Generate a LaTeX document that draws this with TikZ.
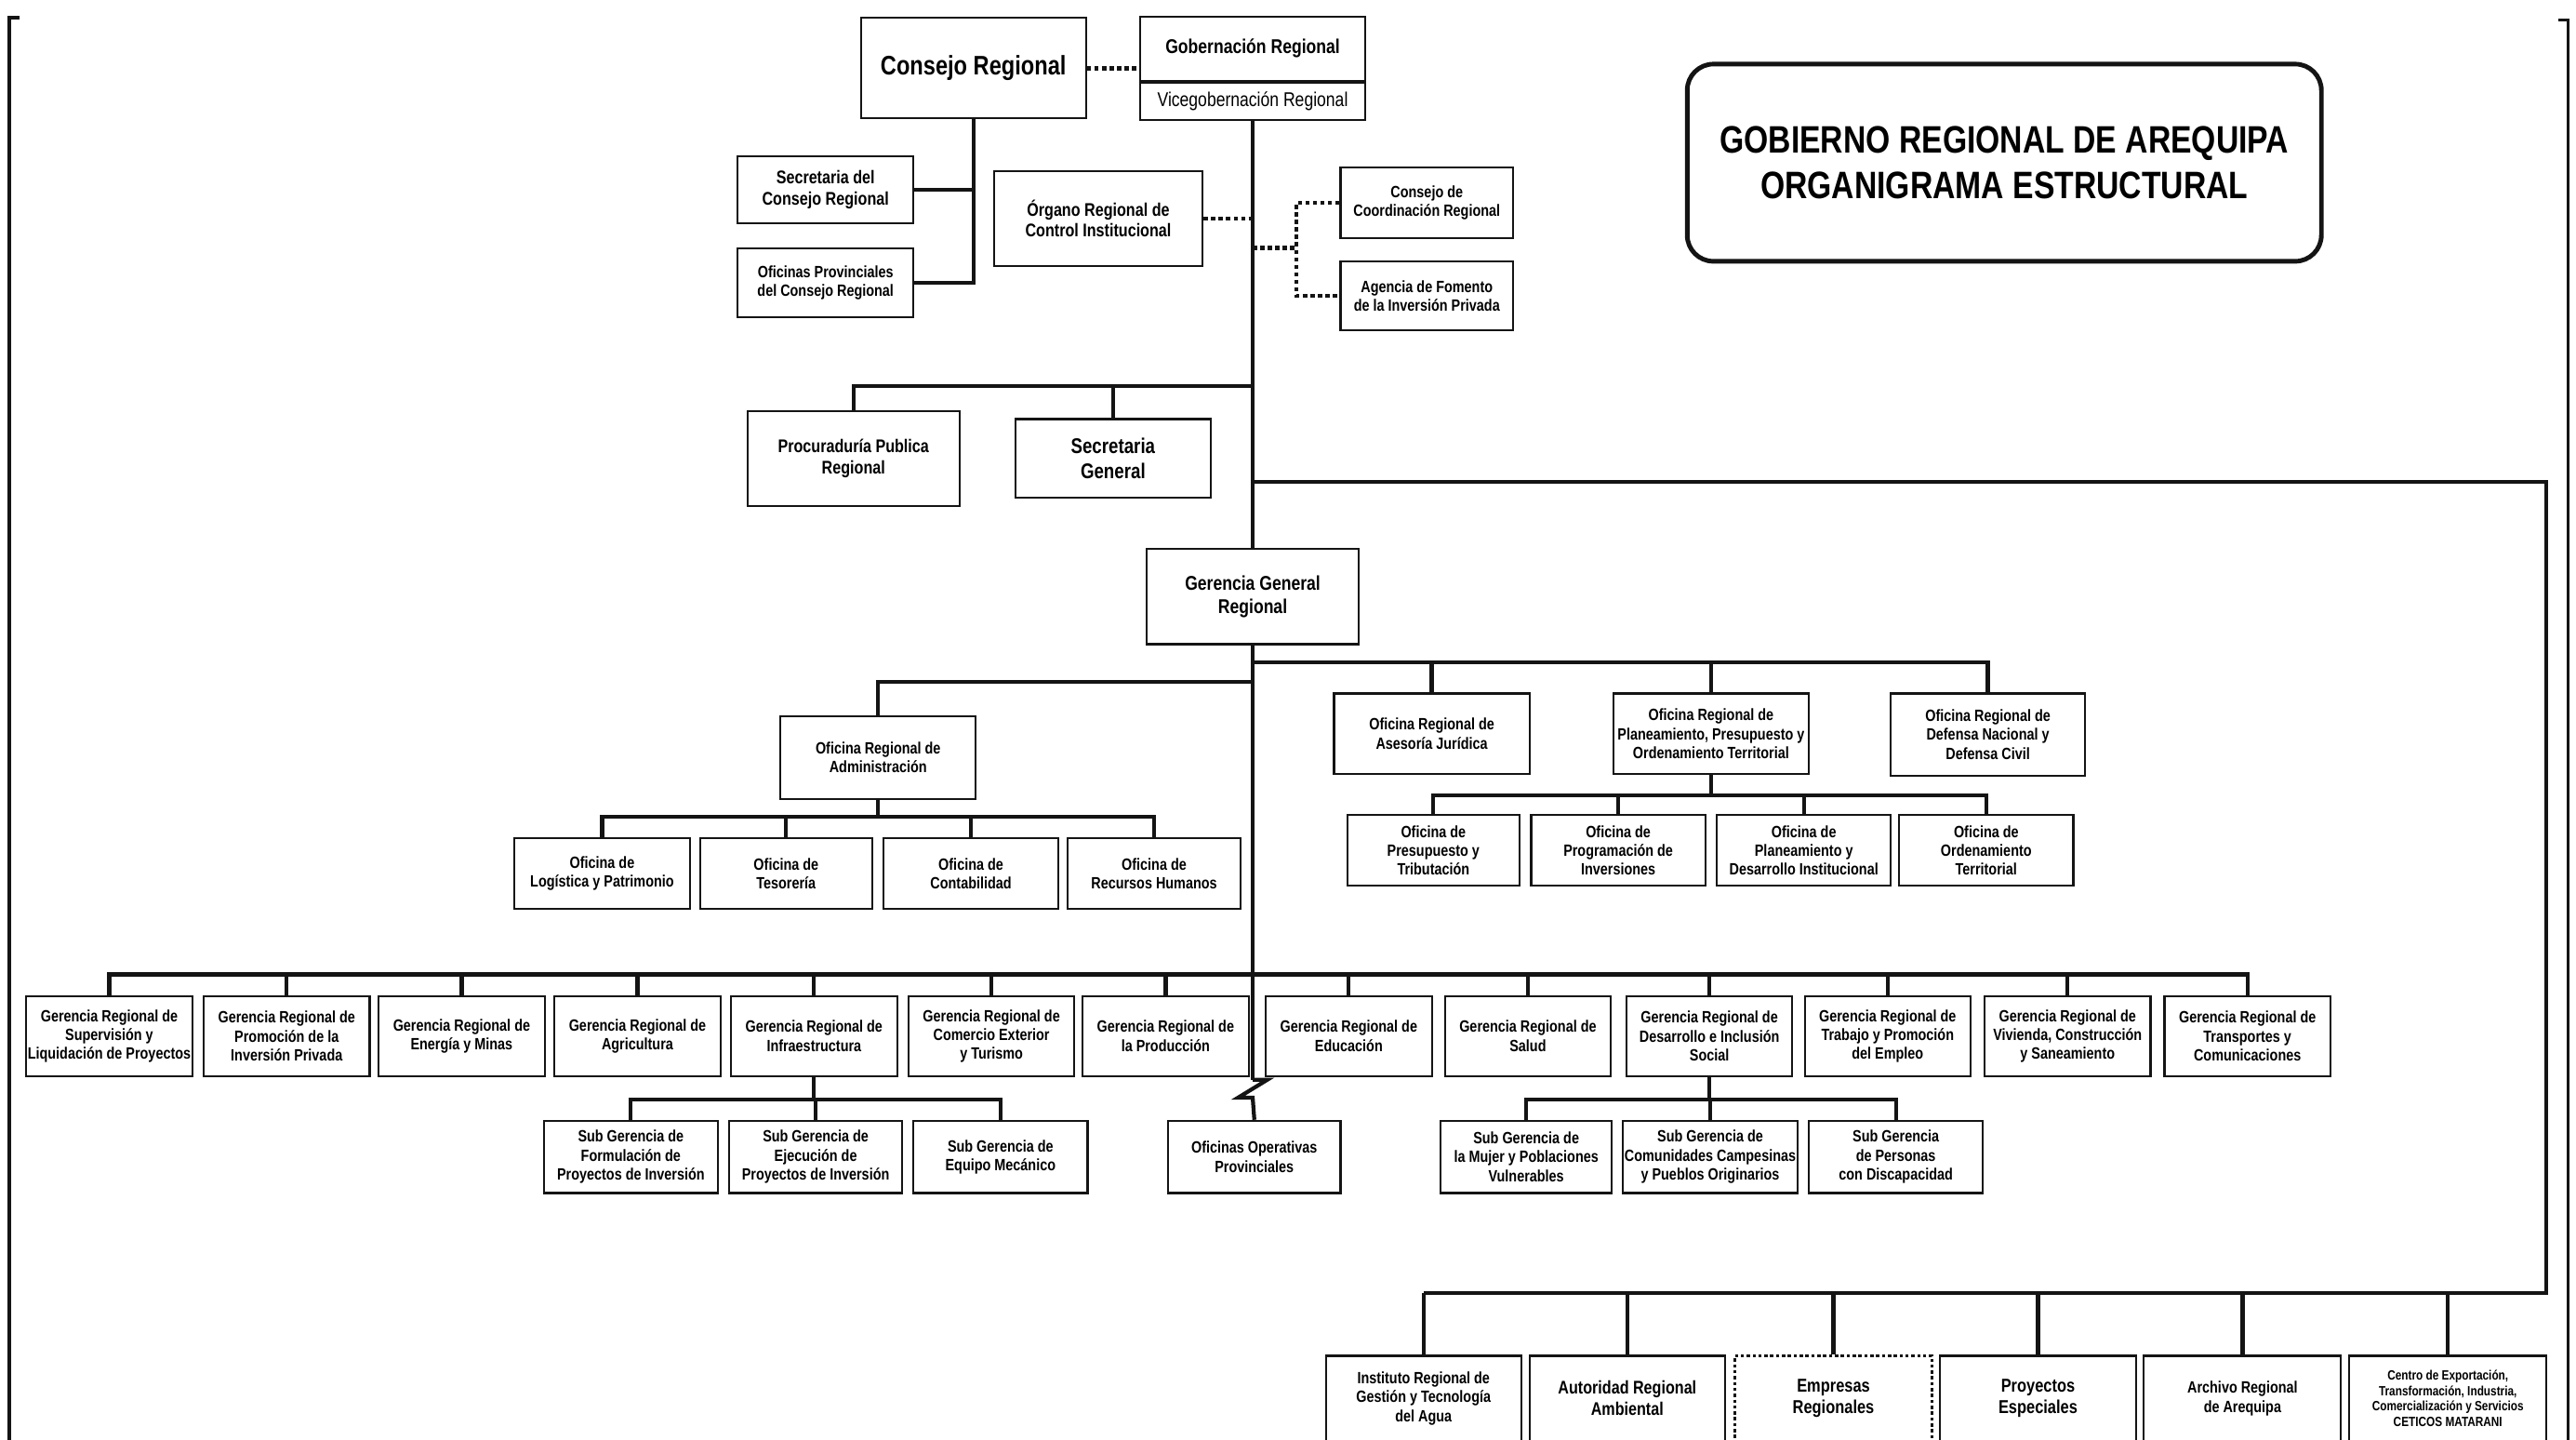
\documentclass[tikz,border=0pt]{standalone}
\usepackage{fontspec}
\setmainfont{Liberation Sans}[FakeStretch=0.82]
\usetikzlibrary{positioning}
\definecolor{ink}{HTML}{141414}
\tikzset{
  wh/.style 2 args={minimum width=#1*0.017666cm,minimum height=#2*0.017666cm},
  box/.style={draw=ink,fill=white,line width=0.6pt,align=center,inner sep=0.5pt,
              font=\fontsize{5}{5.8}\selectfont\bfseries},
  smallbox/.style={box,font=\fontsize{5.6}{6.5}\selectfont\bfseries},
  midbox/.style={box,font=\fontsize{6.1}{7.1}\selectfont\bfseries},
  orgbox/.style={box,font=\fontsize{5.7}{6.7}\selectfont\bfseries},
  bigbox/.style={box,font=\fontsize{8.2}{9.6}\selectfont\bfseries},
  tinybox/.style={box,font=\fontsize{4.1}{4.7}\selectfont\bfseries},
  dotbox/.style={orgbox,dash pattern=on 1pt off 0.8pt},
  titlebox/.style={draw=ink,line width=1.4pt,rounded corners=8pt,align=center,
                   font=\fontsize{11.7}{14}\selectfont\bfseries},
  conn/.style={draw=ink,line width=1.2pt},
  dots/.style={draw=ink,line width=1.3pt,dash pattern=on 1.3pt off 1pt},
  cropline/.style={draw=ink,line width=0.9pt}
}
\begin{document}
\begin{tikzpicture}[x=0.017666cm,y=-0.017666cm]
    \useasboundingbox (0,0) rectangle (1568,876);

    \draw[cropline] (12,10.8) -- (5.7,10.8) -- (5.7,880);
    \draw[cropline] (1557,12) -- (1563,12) -- (1563,880);

    \node[titlebox,wh={386}{120}] (title) at (1220,99)
      {GOBIERNO REGIONAL DE AREQUIPA\\ORGANIGRAMA ESTRUCTURAL};

    % alta direccion
    \node[bigbox,wh={137}{61}] (cons) at (592.5,41.5) {Consejo Regional};
    \node[midbox,wh={137}{39}] (gob) at (762.5,29.5) {Gobernación Regional};
    \node[midbox,wh={137}{23},below=0pt of gob,
          font=\fontsize{6.1}{7.1}\selectfont\mdseries] (vice)
      {Vicegobernación Regional};
    \node[smallbox,wh={107}{41}] (secc) at (502.5,115.5)
      {Secretaria del\\Consejo Regional};
    \node[box,wh={107}{42}] (ofprov) at (502.5,172)
      {Oficinas Provinciales\\del Consejo Regional};
    \node[smallbox,wh={127}{58}] (ocI) at (668.5,133)
      {Órgano Regional de\\Control Institucional};
    \node[box,wh={105}{43}] (ccr) at (868.5,123.5)
      {Consejo de\\Coordinación Regional};
    \node[box,wh={105}{42}] (afip) at (868.5,180)
      {Agencia de Fomento\\de la Inversión Privada};
    \node[smallbox,wh={129}{58}] (proc) at (519.5,279)
      {Procuraduría Publica\\Regional};
    \node[midbox,wh={119}{48},font=\fontsize{6.5}{7.6}\selectfont\bfseries] (sg)
      at (677.5,279) {Secretaria\\General};
    \node[midbox,wh={129}{58}] (ggr) at (762.5,363) {Gerencia General\\Regional};

    % oficinas
    \node[box,wh={119}{50}] (adm) at (534.5,461)
      {Oficina Regional de\\Administración};
    \node[box,wh={107}{43}] (log) at (366.5,531.5) {Oficina de\\Logística y Patrimonio};
    \node[box,wh={105}{43}] (tes) at (478.5,531.5) {Oficina de\\Tesorería};
    \node[box,wh={106}{43}] (cont) at (591,531.5) {Oficina de\\Contabilidad};
    \node[box,wh={105}{43}] (rrhh) at (702.5,531.5) {Oficina de\\Recursos Humanos};
    \node[box,wh={119}{49}] (aj) at (871.5,446.5)
      {Oficina Regional de\\Asesoría Jurídica};
    \node[box,wh={119}{49}] (ppt) at (1041.5,446.5)
      {Oficina Regional de\\Planeamiento, Presupuesto y\\Ordenamiento Territorial};
    \node[box,wh={118}{50}] (dn) at (1210,447)
      {Oficina Regional de\\Defensa Nacional y\\Defensa Civil};
    \node[box,wh={105}{43}] (pt) at (872.5,517.5) {Oficina de\\Presupuesto y\\Tributación};
    \node[box,wh={106}{43}] (pi) at (985,517.5) {Oficina de\\Programación de\\Inversiones};
    \node[box,wh={106}{43}] (pdi) at (1098,517.5)
      {Oficina de\\Planeamiento y\\Desarrollo Institucional};
    \node[box,wh={106}{43}] (ot) at (1209,517.5) {Oficina de\\Ordenamiento\\Territorial};

    % gerencias regionales
    \node[box,wh={101}{49}] (gsup) at (66.5,630.5)
      {Gerencia Regional de\\Supervisión y\\Liquidación de Proyectos};
    \node[box,wh={101}{49}] (gpro) at (174.5,630.5)
      {Gerencia Regional de\\Promoción de la\\Inversión Privada};
    \node[box,wh={101}{49}] (gene) at (281,630.5) {Gerencia Regional de\\Energía y Minas};
    \node[box,wh={101}{49}] (gagr) at (388,630.5) {Gerencia Regional de\\Agricultura};
    \node[box,wh={101}{49}] (ginf) at (495.5,630.5) {Gerencia Regional de\\Infraestructura};
    \node[box,wh={101}{49}] (gcom) at (603.5,630.5)
      {Gerencia Regional de\\Comercio Exterior\\y Turismo};
    \node[box,wh={101}{49}] (gprod) at (709.5,630.5) {Gerencia Regional de\\la Producción};
    \node[box,wh={101}{49}] (gedu) at (821,630.5) {Gerencia Regional de\\Educación};
    \node[box,wh={101}{49}] (gsal) at (930,630.5) {Gerencia Regional de\\Salud};
    \node[box,wh={101}{49}] (gdis) at (1040.5,630.5)
      {Gerencia Regional de\\Desarrollo e Inclusión\\Social};
    \node[box,wh={101}{49}] (gtra) at (1149,630.5)
      {Gerencia Regional de\\Trabajo y Promoción\\del Empleo};
    \node[box,wh={101}{49}] (gviv) at (1258.5,630.5)
      {Gerencia Regional de\\Vivienda, Construcción\\y Saneamiento};
    \node[box,wh={101}{49}] (gtrp) at (1368,630.5)
      {Gerencia Regional de\\Transportes y\\Comunicaciones};

    \node[box,wh={106}{44}] (fpi) at (384,704)
      {Sub Gerencia de\\Formulación de\\Proyectos de Inversión};
    \node[box,wh={105}{44}] (epi) at (496.5,704)
      {Sub Gerencia de\\Ejecución de\\Proyectos de Inversión};
    \node[box,wh={106}{44}] (em) at (609,704) {Sub Gerencia de\\Equipo Mecánico};
    \node[box,wh={105}{44}] (ops) at (763.5,704) {Oficinas Operativas\\Provinciales};
    \node[box,wh={104}{44}] (mpv) at (929,704)
      {Sub Gerencia de\\la Mujer y Poblaciones\\Vulnerables};
    \node[box,wh={106}{44}] (ccp) at (1041,704)
      {Sub Gerencia de\\Comunidades Campesinas\\y Pueblos Originarios};
    \node[box,wh={106}{44}] (pcd) at (1154,704)
      {Sub Gerencia\\de Personas\\con Discapacidad};

    % organismos
    \node[box,wh={119}{52}] (irgta) at (866.5,851)
      {Instituto Regional de\\Gestión y Tecnología\\del Agua};
    \node[smallbox,wh={119}{52}] (ara) at (990.5,851) {Autoridad Regional\\Ambiental};
    \node[dotbox,wh={120}{52}] (er) at (1116,851) {Empresas\\Regionales};
    \node[orgbox,wh={119}{52}] (pe) at (1240.5,851) {Proyectos\\Especiales};
    \node[box,wh={120}{52}] (arq) at (1365,851) {Archivo Regional\\de Arequipa};
    \node[tinybox,wh={120}{52}] (cet) at (1490,851)
      {Centro de Exportación,\\Transformación, Industria,\\Comercialización y Servicios\\CETICOS MATARANI};

    \coordinate (jdots) at (789,151);
    \coordinate (jproc) at (762.5,235);
    \coordinate (jright) at (762.5,293);
    \coordinate (jofi) at (762.5,403);
    \coordinate (jadm) at (762.5,415);
    \coordinate (badm) at (534.5,497);
    \coordinate (bppt) at (1041.5,484);
    \coordinate (jger) at (762.5,593);
    \coordinate (binf) at (495.5,669);
    \coordinate (bdis) at (1040.5,669);
    \coordinate (brk) at (762.5,657);
    \coordinate (corner) at (1550,787);

    \draw[dots] (cons.east) -- (cons.east -| gob.west);
    \draw[conn] (cons.south) |- (ofprov.east);
    \draw[conn] (secc.east) -- (secc.east -| cons.south);
    \draw[dots] (ocI.east) -- (ocI.east -| vice.south);
    \draw[dots] (jdots -| vice.south) -- (jdots);
    \draw[dots] (ccr.west) -| (jdots) |- (afip.west);

    \draw[conn] (vice.south) -- (ggr.north);
    \draw[conn] (ggr.south) -- (brk);
    \draw[conn,line join=miter] (brk) -- ++(9,0) -- ++(-18,11) -- ++(9,0) -- (ops.north);

    \draw[conn] (jproc) -| (proc.north);
    \draw[conn] (sg.north) -- (sg.north |- jproc);
    \draw[conn] (jright) -| (corner) -- (corner -| irgta.north);
    \foreach \n in {irgta,ara,er,pe,arq,cet}
      \draw[conn] (\n.north) -- (\n.north |- corner);

    \draw[conn] (jofi) -| (dn.north);
    \draw[conn] (aj.north) -- (aj.north |- jofi);
    \draw[conn] (ppt.north) -- (ppt.north |- jofi);
    \draw[conn] (ppt.south) -- (bppt);
    \draw[conn] (pt.north) |- (bppt) -| (ot.north);
    \foreach \n in {pi,pdi}
      \draw[conn] (\n.north) -- (\n.north |- bppt);

    \draw[conn] (jadm) -| (adm.north);
    \draw[conn] (adm.south) -- (badm);
    \draw[conn] (log.north) |- (badm) -| (rrhh.north);
    \foreach \n in {tes,cont}
      \draw[conn] (\n.north) -- (\n.north |- badm);

    \draw[conn] (gsup.north) |- (jger) -| (gtrp.north);
    \foreach \n in {gpro,gene,gagr,ginf,gcom,gprod,gedu,gsal,gdis,gtra,gviv}
      \draw[conn] (\n.north) -- (\n.north |- jger);

    \draw[conn] (ginf.south) -- (binf);
    \draw[conn] (fpi.north) |- (binf) -| (em.north);
    \draw[conn] (epi.north) -- (epi.north |- binf);
    \draw[conn] (gdis.south) -- (bdis);
    \draw[conn] (mpv.north) |- (bdis) -| (pcd.north);
    \draw[conn] (ccp.north) -- (ccp.north |- bdis);
\end{tikzpicture}
\end{document}
